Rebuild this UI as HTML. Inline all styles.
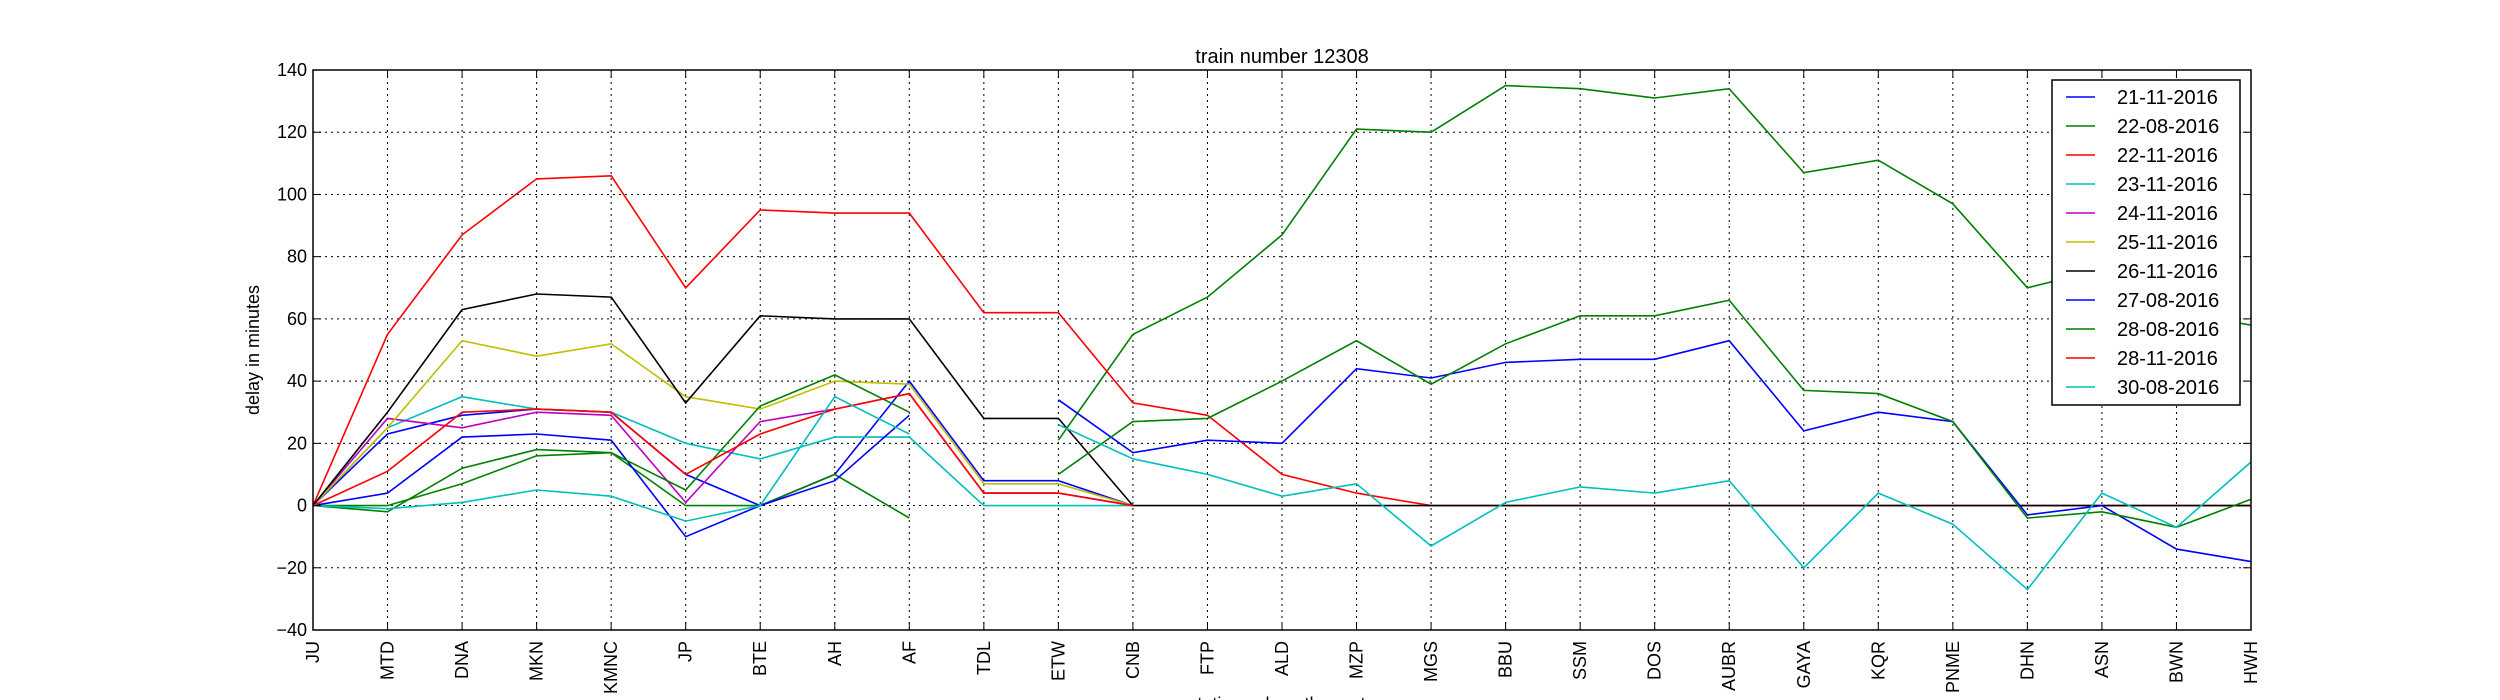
<!DOCTYPE html>
<html><head><meta charset="utf-8"><style>
body{margin:0;background:#fff;}
svg{display:block;font-family:"Liberation Sans","DejaVu Sans",sans-serif;}
</style></head><body>
<svg id="chart" width="2500" height="700" viewBox="0 0 2500 700" xmlns="http://www.w3.org/2000/svg">
<rect width="2500" height="700" fill="#fff"/>
<g id="grid"></g>
<g id="series"></g>
<rect x="313" y="70" width="1938" height="560" fill="none" stroke="#000" stroke-width="1.5"/>
<g id="ticks"></g>
<text x="1282" y="63" font-size="20" text-anchor="middle">train number 12308</text>
<text transform="translate(259,350) rotate(-90)" font-size="18" text-anchor="middle">delay in minutes</text>
<text x="1282" y="710" font-size="18" text-anchor="middle">stations along the route</text>
<g id="legend"></g>
</svg>
<script>
const stations = ["JU","MTD","DNA","MKN","KMNC","JP","BTE","AH","AF","TDL","ETW","CNB","FTP","ALD","MZP","MGS","BBU","SSM","DOS","AUBR","GAYA","KQR","PNME","DHN","ASN","BWN","HWH"];
const yTicks = [-40,-20,0,20,40,60,80,100,120,140];
const seriesNames = ["21-11-2016","22-08-2016","22-11-2016","23-11-2016","24-11-2016","25-11-2016","26-11-2016","27-08-2016","28-08-2016","28-11-2016","30-08-2016"];
const seriesColors = ["#0000ff","#008000","#ff0000","#00bfbf","#bf00bf","#bfbf00","#000000","#0000ff","#008000","#ff0000","#00bfbf"];
const s21_11 = [0,23,29,31,30,10,0,10,40,8,8,0];
const s22_08 = [0,0,7,16,17,0,0,10,-4,null,21,55,67,87,121,120,135,134,131,134,107,111,97,70,76,62,58];
const s22_11 = [0,55,87,105,106,70,95,94,94,62,62,33,29,10,4,0,0,0,0,0,0,0,0,0,0,0,0];
const s23_11 = [0,25,35,31,30,20,15,22,22,0,0,0];
const s24_11 = [0,28,25,30,29,1,27,31,36,4,4,0];
const s25_11 = [0,25,53,48,52,35,31,40,39,7,7,0];
const s26_11 = [0,30,63,68,67,33,61,60,60,28,28,0,0,0,0,0,0,0,0,0,0,0,0,0,0,0,0];
const s27_08 = [0,4,22,23,21,-10,0,8,29,null,34,17,21,20,44,41,46,47,47,53,24,30,27,-3,0,-14,-18];
const s28_08 = [0,-2,12,18,17,5,32,42,30,null,10,27,28,40,53,39,52,61,61,66,37,36,27,-4,-2,-7,2];
const s28_11 = [0,11,30,31,30,10,23,31,36,4,4,0];
const s30_08 = [0,-1,1,5,3,-5,0,35,23,null,26,15,10,3,7,-13,1,6,4,8,-20,4,-6,-27,4,-7,14];
const allSeries = [s21_11,s22_08,s22_11,s23_11,s24_11,s25_11,s26_11,s27_08,s28_08,s28_11,s30_08];

const NS="http://www.w3.org/2000/svg";
const L=313,R=2251,T=70,B=630,yMin=-40,yMax=140;
function xs(i){return L+(R-L)*i/(stations.length-1);}
function ys(v){return B-(B-T)*(v-yMin)/(yMax-yMin);}
function mk(tag,attrs,parent){const e=document.createElementNS(NS,tag);for(const k in attrs)e.setAttribute(k,attrs[k]);parent.appendChild(e);return e;}
const grid=document.getElementById('grid'),ticks=document.getElementById('ticks'),ser=document.getElementById('series'),leg=document.getElementById('legend');

stations.forEach((s,i)=>{
  const x=xs(i);
  if(i>0&&i<stations.length-1){const g=mk('line',{x1:x,x2:x,y1:T,y2:B,stroke:'#000','stroke-width':1,'stroke-dasharray':'2,4'},grid);
  
  }
  mk('line',{x1:x,x2:x,y1:B,y2:B-8,stroke:'#000','stroke-width':1},ticks);
  mk('line',{x1:x,x2:x,y1:T,y2:T+8,stroke:'#000','stroke-width':1},ticks);
  const t=mk('text',{transform:`translate(${x+6},641) rotate(-90)`,'font-size':18,'text-anchor':'end'},ticks);
  t.textContent=s;
  
  
});
yTicks.forEach(v=>{
  const y=ys(v);
  if(v>yMin&&v<yMax){const g=mk('line',{x1:L,x2:R,y1:y,y2:y,stroke:'#000','stroke-width':1,'stroke-dasharray':'2,4'},grid);
  
  }
  mk('line',{x1:L,x2:L+8,y1:y,y2:y,stroke:'#000','stroke-width':1},ticks);
  mk('line',{x1:R,x2:R-8,y1:y,y2:y,stroke:'#000','stroke-width':1},ticks);
  const t=mk('text',{x:L-6,y:y+6,'font-size':18,'text-anchor':'end'},ticks);
  t.textContent=(v<0?'\u2212'+(-v):v);
  
  
});
allSeries.forEach((vals,si)=>{
  let d='',pen=false;
  vals.forEach((v,i)=>{if(v===null){pen=false;return;}d+=(pen?'L':'M')+xs(i).toFixed(1)+','+ys(v).toFixed(1);pen=true;});
  const p=mk('path',{d:d,fill:'none',stroke:seriesColors[si],'stroke-width':1.6,'stroke-linejoin':'miter'},ser);
  
  
});
const lb=mk('rect',{x:2052,y:80,width:188,height:325,fill:'#fff',stroke:'#000','stroke-width':1.5},leg);


seriesNames.forEach((n,i)=>{
  const y=97+i*29;
  const ln=mk('line',{x1:2066,x2:2095,y1:y,y2:y,stroke:seriesColors[i],'stroke-width':1.6},leg);
  
  
  const t=mk('text',{x:2117,y:y+7,'font-size':20},leg);
  t.textContent=n;
  
  
});
</script>
</body></html>
